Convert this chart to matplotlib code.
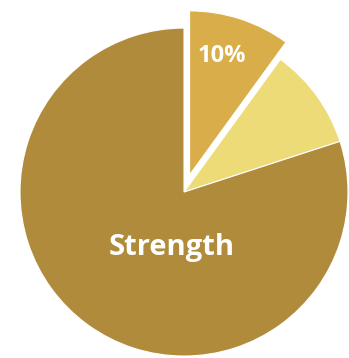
import matplotlib
matplotlib.use("Agg")
import matplotlib.pyplot as plt

categories = ["Highlight", "Other", "Strength"]
values = [10, 10, 80]
labels_shown = ["10%", "", "Strength"]
colors = ["#D9AE4A", "#EDDB78", "#B08B3C"]
explode = [0.11, 0, 0]

fig = plt.figure(figsize=(3.49, 3.58), dpi=100)
ax = fig.add_axes([0, 0, 1, 1])
wedges, _ = ax.pie(values, colors=colors, explode=explode, startangle=90,
                   counterclock=False, radius=1.0,
                   wedgeprops=dict(edgecolor="white", linewidth=0.8))
ax.set_xlim(-1.122, 1.006)
ax.set_ylim(-1.012, 1.171)
ax.set_aspect("auto")
ax.axis("off")

ax.text(0.229, 0.832, labels_shown[0], color="white", fontsize=17,
        fontweight="bold", family="Open Sans", ha="center", va="center")
ax.text(-0.073, -0.34, labels_shown[2], color="white", fontsize=21,
        fontweight="bold", family="Open Sans", ha="center", va="center")

fig.savefig("out.png", dpi=100, facecolor="white")
